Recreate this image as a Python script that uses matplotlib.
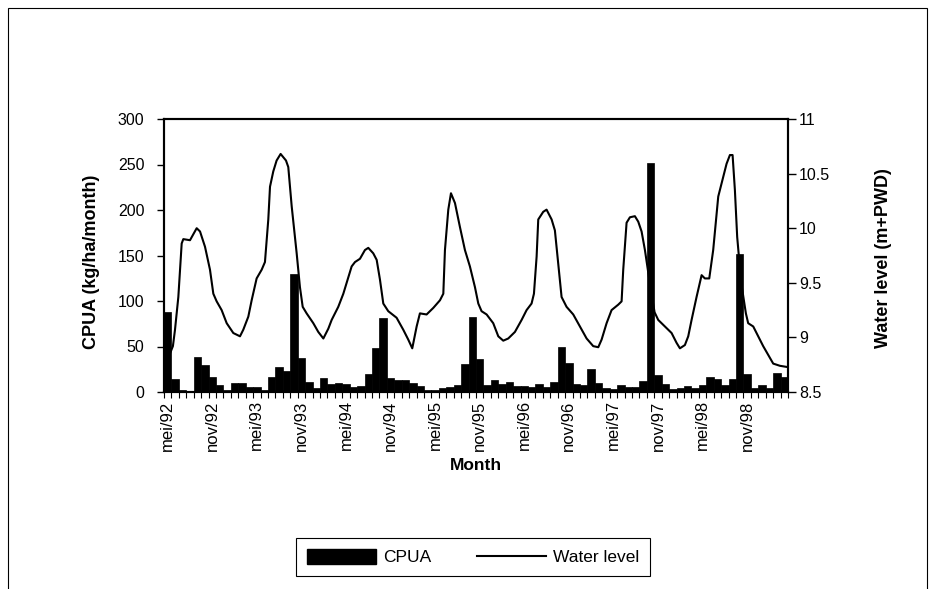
import matplotlib
matplotlib.use('Agg')
import matplotlib.pyplot as plt
from matplotlib.patches import Patch, Rectangle
from matplotlib.lines import Line2D
import numpy as np

plt.rcParams['font.family'] = ['Liberation Sans', 'DejaVu Sans']

# monthly CPUA, mei/92 .. apr/99 (kg/ha/month)
cpua = [88, 14, 2, 1, 38, 30, 16, 8, 2, 10, 10, 5,
        5, 2, 17, 27, 23, 130, 37, 11, 4, 15, 9, 10,
        9, 5, 7, 20, 48, 81, 15, 13, 13, 10, 7, 2,
        2, 4, 6, 8, 31, 82, 36, 8, 13, 9, 11, 7,
        7, 5, 9, 5, 11, 50, 32, 9, 8, 25, 10, 4,
        3, 8, 6, 6, 12, 252, 19, 9, 3, 4, 7, 4,
        8, 16, 14, 8, 14, 152, 20, 4, 8, 4, 21, 16]

# labels shown every 6 months
tick_labels = ['mei/92', 'nov/92', 'mei/93', 'nov/93', 'mei/94', 'nov/94',
               'mei/95', 'nov/95', 'mei/96', 'nov/96', 'mei/97', 'nov/97',
               'mei/98', 'nov/98']

# water level trace (position in months from mei/92, m+PWD)
wl_x = [0.0, 0.7, 0.98, 1.43, 1.88, 2.1, 3.0, 3.9, 4.35, 5.02, 5.69, 6.14,
        6.59, 7.26, 7.94, 8.83, 9.73, 10.17, 10.85, 11.3, 11.97, 12.65, 13.09,
        13.54, 13.77, 14.21, 14.66, 15.2, 15.92, 16.23, 16.69, 17.36, 17.8,
        18.17, 18.7, 19.6, 20.27, 20.95, 21.62, 22.07, 22.96, 23.64, 24.09,
        24.76, 25.21, 25.88, 26.55, 27.0, 27.67, 28.13, 28.57, 29.02, 29.69,
        30.81, 31.71, 32.38, 32.92, 33.51, 33.95, 34.85, 35.75, 36.65, 37.1,
        37.32, 37.77, 38.13, 38.67, 39.34, 40.01, 40.68, 41.36, 41.81, 42.25,
        42.93, 43.82, 44.5, 45.17, 45.84, 46.74, 47.64, 48.31, 48.98, 49.3,
        49.66, 49.88, 50.55, 51.0, 51.68, 52.12, 52.57, 53.02, 53.69, 54.59,
        55.49, 56.39, 57.28, 57.96, 58.41, 59.08, 59.75, 60.65, 61.1, 61.32,
        61.77, 62.22, 62.89, 63.34, 63.79, 64.24, 65.0, 65.54, 66.03, 66.93,
        67.83, 68.5, 68.95, 69.62, 70.07, 70.52, 71.19, 71.87, 72.31, 72.9,
        73.43, 74.11, 74.56, 75.23, 75.68, 76.04, 76.35, 76.66, 77.2, 77.83,
        78.14, 78.82, 79.49, 80.16, 80.84, 81.51, 82.41, 83.3]
wl_y = [8.8, 8.92, 9.07, 9.37, 9.86, 9.9, 9.89, 10.0, 9.97, 9.83, 9.62, 9.4,
        9.33, 9.25, 9.13, 9.04, 9.01, 9.07, 9.19, 9.34, 9.54, 9.62, 9.69,
        10.08, 10.38, 10.52, 10.62, 10.68, 10.62, 10.56, 10.2, 9.77, 9.46,
        9.28, 9.22, 9.13, 9.05, 8.99, 9.08, 9.16, 9.28, 9.4, 9.5,
        9.65, 9.69, 9.72, 9.8, 9.82, 9.77, 9.71, 9.53, 9.31, 9.24,
        9.18, 9.07, 8.98, 8.9, 9.1, 9.22, 9.21, 9.27, 9.34, 9.4,
        9.8, 10.17, 10.32, 10.23, 10.01, 9.8, 9.65, 9.46, 9.31, 9.24,
        9.21, 9.13, 9.01, 8.97, 8.99, 9.05, 9.16, 9.25, 9.31, 9.4,
        9.74, 10.08, 10.15, 10.17, 10.08, 9.98, 9.68, 9.37, 9.28, 9.21,
        9.1, 8.99, 8.92, 8.91, 8.98, 9.13, 9.25, 9.3, 9.33, 9.62,
        10.05, 10.1, 10.11, 10.06, 9.97, 9.8, 9.45, 9.23, 9.16, 9.1,
        9.04, 8.95, 8.9, 8.93, 9.01, 9.16, 9.37, 9.57, 9.54, 9.54,
        9.8, 10.29, 10.41, 10.59, 10.67, 10.67, 10.35, 9.92, 9.5, 9.22,
        9.13, 9.1, 9.01, 8.92, 8.84, 8.76, 8.74, 8.73]

wl_ticks = [8.5, 9, 9.5, 10, 10.5, 11]

W, H = 935, 589
fig = plt.figure(figsize=(W / 100, H / 100), dpi=100)

# outer chart border (bottom runs off the image)
fig.add_artist(Rectangle((8 / W, -0.05), 919 / W, 1 - 8 / H + 0.05,
                         transform=fig.transFigure, fill=False,
                         edgecolor='black', linewidth=0.8, clip_on=False))

ax = fig.add_axes([164 / W, 1 - 392 / H, 624 / W, 273 / H])
ax2 = ax.twinx()

months = np.arange(len(cpua))
ax.bar(months, cpua, width=1.0, color='black', edgecolor='black', linewidth=0.5)
ax2.plot(wl_x, wl_y, color='black', linewidth=1.5)

ax.set_xlim(-0.5, len(cpua) - 0.5)
ax.set_ylim(0, 300)
ax.set_yticks(range(0, 301, 50))
ax2.set_ylim(8.5, 11)
ax2.set_yticks(wl_ticks)
ax2.set_yticklabels(['%g' % t for t in wl_ticks])

ax.set_xticks(np.arange(0, len(cpua), 6)[:len(tick_labels)])
ax.set_xticklabels(tick_labels, rotation=90, fontsize=12)
ax.set_xticks(np.arange(-0.5, len(cpua), 1), minor=True)
ax.tick_params(axis='x', which='major', length=0, pad=6)
ax.tick_params(axis='x', which='minor', length=4, width=0.8, direction='out')
ax.tick_params(axis='y', length=5, width=1, pad=9, labelsize=11.5)
ax2.tick_params(axis='y', length=6, width=1, pad=2, labelsize=11.5)

for a in (ax, ax2):
    for s in a.spines.values():
        s.set_linewidth(1.5)

fig.text(92 / W, 1 - 262 / H, 'CPUA (kg/ha/month)', rotation=90,
         ha='center', va='center', fontsize=13, fontweight='bold')
fig.text(884 / W, 1 - 258 / H, 'Water level (m+PWD)', rotation=90,
         ha='center', va='center', fontsize=13, fontweight='bold')
fig.text(476 / W, 1 - 466 / H, 'Month', ha='center', va='center',
         fontsize=12.5, fontweight='bold')

handles = [Patch(facecolor='black', edgecolor='black'),
           Line2D([], [], color='black', linewidth=1.5)]
leg = fig.legend(handles, ['CPUA', 'Water level'], loc='center',
                 bbox_to_anchor=(473 / W, 1 - 557 / H), ncol=2, fontsize=12.5,
                 frameon=True, fancybox=False, framealpha=1, edgecolor='black',
                 handlelength=4.0, handleheight=1.0, handletextpad=0.4,
                 columnspacing=2.6, borderpad=0.6, borderaxespad=0)
leg.get_frame().set_linewidth(0.8)

fig.savefig('out.png', dpi=100)
